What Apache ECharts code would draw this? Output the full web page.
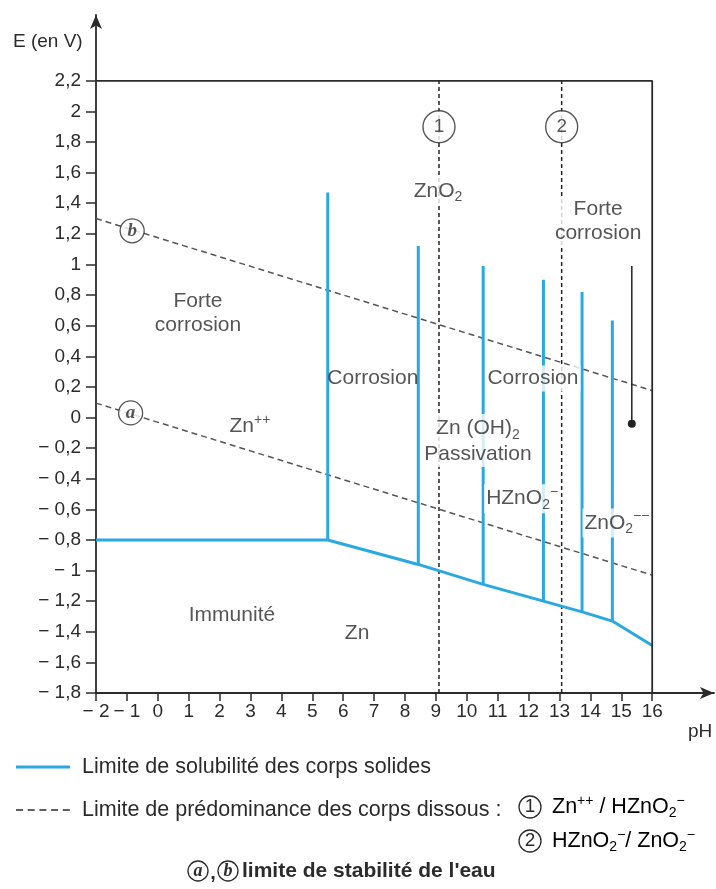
<!DOCTYPE html>
<html>
<head>
<meta charset="utf-8">
<script src="https://cdn.jsdelivr.net/npm/echarts@6/dist/echarts.min.js"></script>
<style>
  html, body { margin: 0; padding: 0; background: #fff; }
  #chart { width: 716px; height: 889px; }
</style>
</head>
<body>
<div id="chart"></div>
<script>
// axes
var xTicks = [-2, -1, 0, 1, 2, 3, 4, 5, 6, 7, 8, 9, 10, 11, 12, 13, 14, 15, 16];
var xTickLabels = ['− 2', '− 1', '0', '1', '2', '3', '4', '5', '6', '7', '8', '9', '10', '11', '12', '13', '14', '15', '16'];
var yTicks = [-1.8, -1.6, -1.4, -1.2, -1, -0.8, -0.6, -0.4, -0.2, 0, 0.2, 0.4, 0.6, 0.8, 1, 1.2, 1.4, 1.6, 1.8, 2, 2.2];
var yTickLabels = ['− 1,8', '− 1,6', '− 1,4', '− 1,2', '− 1', '− 0,8', '− 0,6', '− 0,4', '− 0,2', '0',
  '0,2', '0,4', '0,6', '0,8', '1', '1,2', '1,4', '1,6', '1,8', '2', '2,2'];

// cadre du diagramme
var frame = [[-2, 2.2], [16, 2.2], [16, -1.8]];

// limite de solubilité des corps solides
var solubLimit = [[-2, -0.8], [5.5, -0.8], [8.43, -0.96], [10.53, -1.09], [12.48, -1.2], [13.73, -1.27], [14.71, -1.33], [16, -1.49]];
var vertPH = [5.5, 8.43, 10.53, 12.48, 13.73, 14.71];
var vertBottom = [-0.8, -0.96, -1.09, -1.2, -1.27, -1.33];
var vertTop = [1.47, 1.12, 0.99, 0.9, 0.82, 0.634];

// limites de stabilité de l'eau (a) et (b)
var waterA = [[-2, 0.094], [16, -1.03]];
var waterB = [[-2, 1.3], [16, 0.176]];
var waterMarkPH = [-0.88, -0.83];
var waterMarkE = [0.03, 1.22];
var waterMarkText = ['a', 'b'];

// limites de prédominance des corps dissous (1) et (2)
var domPH = [9.1, 13.07];
var domMarkE = [1.9, 1.9];
var domMarkText = ['1', '2'];

// flèche "forte corrosion"
var arrowLine = [[15.34, 0.99], [15.34, -0.04]];

// zones
var regionPH = [9.07, 14.25, 1.3, 2.98, 2.4, 6.45, 6.96, 12.14, 10.36, 11.79, 14.86];
var regionE = [1.48, 1.28, 0.68, -0.06, -1.29, -1.41, 0.26, 0.255, -0.15, -0.53, -0.69];
var regionText = [
  '{t|ZnO}{sub|2}',
  '{t|Forte}\n{t|corrosion}',
  '{t|Forte}\n{t|corrosion}',
  '{t|Zn}{sup|++}',
  '{t|Immunité}',
  '{t|Zn}',
  '{t|Corrosion}',
  '{t|Corrosion}',
  '{t|Zn (OH)}{sub|2}\n{t|Passivation}',
  '{t|HZnO}{sub|2}{sup|−}',
  '{t|ZnO}{sub|2}{sup|−−}'
];
var masked = [0, 1, 7, 8, 9, 10];

var FONT = '"Liberation Sans", Arial, sans-serif';
var BLUE = '#2aa8e0';
var INK = '#2b2b2b';

var rich = {
  t: { fontSize: 21, color: INK, fontFamily: FONT, lineHeight: 24 },
  sub: { fontSize: 14, color: INK, fontFamily: FONT, padding: [13, 0, 0, 0] },
  sup: { fontSize: 14, color: INK, fontFamily: FONT, padding: [0, 0, 13, 0] }
};

function tickLabel(ticks, labels) {
  return function (v) {
    for (var i = 0; i < ticks.length; i++) {
      if (Math.abs(ticks[i] - v) < 1e-6) return labels[i];
    }
    return '';
  };
}

var series = [];

series.push({
  type: 'line', data: frame, symbol: 'none', silent: true, z: 9,
  lineStyle: { color: INK, width: 1.8 }
});

series.push({
  type: 'line', data: solubLimit, symbol: 'none', silent: true, z: 4,
  lineStyle: { color: BLUE, width: 3 }
});

vertPH.forEach(function (ph, i) {
  series.push({
    type: 'line', data: [[ph, vertBottom[i]], [ph, vertTop[i]]], symbol: 'none', silent: true, z: 4,
    lineStyle: { color: BLUE, width: 3 }
  });
});

[waterA, waterB].forEach(function (d) {
  series.push({
    type: 'line', data: d, symbol: 'none', silent: true, z: 2,
    lineStyle: { color: '#555', width: 1.5, type: [6, 4] }
  });
});

domPH.forEach(function (ph) {
  series.push({
    type: 'line', data: [[ph, -1.8], [ph, 2.2]], symbol: 'none', silent: true, z: 2,
    lineStyle: { color: '#222', width: 1.5, type: [4, 3] }
  });
});

series.push({
  type: 'line', silent: true, z: 4, showSymbol: true,
  data: [
    { value: arrowLine[0], symbol: 'none' },
    { value: arrowLine[1], symbol: 'circle', symbolSize: 8 }
  ],
  lineStyle: { color: '#222', width: 1.5 },
  itemStyle: { color: '#222' }
});

series.push({
  type: 'scatter', silent: true, z: 6, symbol: 'circle', symbolSize: 32,
  data: domPH.map(function (ph, i) { return [ph, domMarkE[i], domMarkText[i]]; }),
  itemStyle: { color: '#fff', borderColor: INK, borderWidth: 1.4 },
  label: {
    show: true, position: 'inside', color: INK, fontSize: 19, fontFamily: FONT,
    formatter: function (p) { return p.value[2]; }
  }
});

series.push({
  type: 'scatter', silent: true, z: 6, symbol: 'circle', symbolSize: 24,
  data: waterMarkPH.map(function (ph, i) { return [ph, waterMarkE[i], waterMarkText[i]]; }),
  itemStyle: { color: '#fff', borderColor: INK, borderWidth: 1.3 },
  label: {
    show: true, position: 'inside', color: INK, fontSize: 19,
    fontFamily: '"Liberation Serif", "Times New Roman", serif', fontStyle: 'italic', fontWeight: 'bold',
    formatter: function (p) { return p.value[2]; }
  }
});

series.push({
  type: 'scatter', silent: true, z: 7, symbolSize: 1,
  itemStyle: { color: 'rgba(0,0,0,0)' },
  data: regionPH.map(function (ph, i) {
    var item = { value: [ph, regionE[i], regionText[i]] };
    if (masked.indexOf(i) >= 0) {
      item.label = { backgroundColor: '#fff', padding: [1, 2] };
    }
    return item;
  }),
  label: {
    show: true, position: 'inside', align: 'center', rich: rich,
    formatter: function (p) { return p.value[2]; }
  }
});

var legendRich = {
  t: { fontSize: 21.5, color: INK, fontFamily: FONT },
  sub: { fontSize: 14, color: INK, fontFamily: FONT, padding: [12, 0, 0, 0] },
  sup: { fontSize: 14, color: INK, fontFamily: FONT, padding: [0, 0, 12, 0] }
};

var graphic = [
  { type: 'text', left: 13, top: 32, style: { text: 'E (en V)', font: '19px ' + FONT, fill: INK } },
  { type: 'text', left: 688, top: 722, style: { text: 'pH', font: '19px ' + FONT, fill: INK } },

  { type: 'line', shape: { x1: 16, y1: 767, x2: 70, y2: 767 }, style: { stroke: BLUE, lineWidth: 3 } },
  { type: 'text', x: 82, y: 767, style: { text: 'Limite de solubilité des corps solides', font: '21.5px ' + FONT, fill: INK, verticalAlign: 'middle' } },

  { type: 'line', shape: { x1: 16, y1: 810, x2: 70, y2: 810 }, style: { stroke: INK, lineWidth: 1.5, lineDash: [7, 4.7] } },
  { type: 'text', x: 82, y: 810, style: { text: 'Limite de prédominance des corps dissous :', font: '21.5px ' + FONT, fill: INK, verticalAlign: 'middle' } },

  { type: 'circle', shape: { cx: 530, cy: 807, r: 11 }, style: { fill: '#fff', stroke: INK, lineWidth: 1.3 } },
  { type: 'text', x: 530, y: 807, style: { text: '1', font: '19px ' + FONT, fill: INK, align: 'center', verticalAlign: 'middle' } },
  { type: 'text', x: 552, y: 807, style: { text: '{t|Zn}{sup|++}{t| / HZnO}{sub|2}{sup|−}', rich: legendRich, verticalAlign: 'middle' } },

  { type: 'circle', shape: { cx: 530, cy: 841, r: 11 }, style: { fill: '#fff', stroke: INK, lineWidth: 1.3 } },
  { type: 'text', x: 530, y: 841, style: { text: '2', font: '19px ' + FONT, fill: INK, align: 'center', verticalAlign: 'middle' } },
  { type: 'text', x: 552, y: 841, style: { text: '{t|HZnO}{sub|2}{sup|−}{t|/ ZnO}{sub|2}{sup|−}', rich: legendRich, verticalAlign: 'middle' } },

  { type: 'circle', shape: { cx: 198, cy: 871, r: 10 }, style: { fill: '#fff', stroke: INK, lineWidth: 1.3 } },
  { type: 'text', x: 198, y: 871, style: { text: 'a', font: 'italic bold 18px "Liberation Serif", serif', fill: INK, align: 'center', verticalAlign: 'middle' } },
  { type: 'text', x: 213, y: 873, style: { text: ',', font: 'bold 20px ' + FONT, fill: INK, align: 'center', verticalAlign: 'middle' } },
  { type: 'circle', shape: { cx: 228, cy: 871, r: 10 }, style: { fill: '#fff', stroke: INK, lineWidth: 1.3 } },
  { type: 'text', x: 228, y: 871, style: { text: 'b', font: 'italic bold 18px "Liberation Serif", serif', fill: INK, align: 'center', verticalAlign: 'middle' } },
  { type: 'text', x: 242, y: 871, style: { text: "limite de stabilité de l'eau", font: 'bold 21px ' + FONT, fill: INK, verticalAlign: 'middle' } }
];

var chart = echarts.init(document.getElementById('chart'));
chart.setOption({
  animation: false,
  backgroundColor: '#fff',
  grid: { left: 96, right: 2, top: 15, bottom: 196 },
  xAxis: {
    type: 'value', min: -2, max: 18,
    splitLine: { show: false },
    axisLine: { onZero: false, lineStyle: { color: INK, width: 1.8 }, symbol: ['none', 'arrow'], symbolSize: [9, 14] },
    axisTick: { customValues: xTicks, length: 8, lineStyle: { color: INK, width: 1.5 } },
    axisLabel: {
      customValues: xTicks, margin: 9, fontSize: 19, color: INK, fontFamily: FONT,
      formatter: tickLabel(xTicks, xTickLabels)
    }
  },
  yAxis: {
    type: 'value', min: -1.8, max: 2.63,
    splitLine: { show: false },
    axisLine: { onZero: false, lineStyle: { color: INK, width: 1.8 }, symbol: ['none', 'arrow'], symbolSize: [9, 14] },
    axisTick: { customValues: yTicks, length: 10, lineStyle: { color: INK, width: 1.5 } },
    axisLabel: {
      customValues: yTicks, margin: 15, fontSize: 19, color: INK, fontFamily: FONT,
      formatter: tickLabel(yTicks, yTickLabels)
    }
  },
  series: series,
  graphic: graphic
});
</script>
</body>
</html>
